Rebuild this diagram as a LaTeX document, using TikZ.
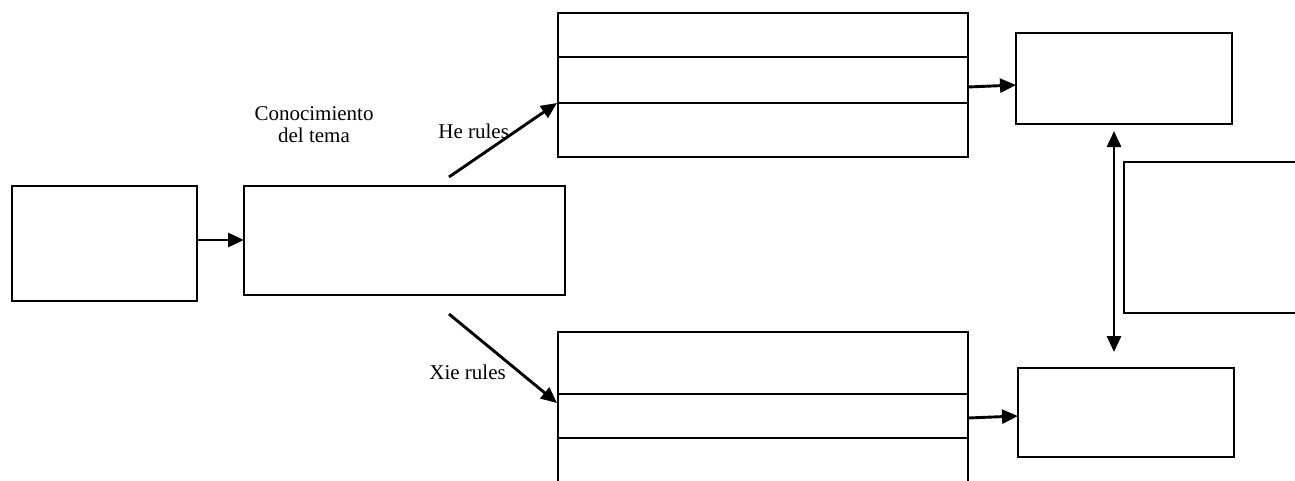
\documentclass[tikz,border=0pt]{standalone}
\usepackage{fontspec}
\setmainfont{Liberation Serif}
\usetikzlibrary{arrows.meta}
\begin{document}
\begin{tikzpicture}[x=0.5pt,y=-0.5pt,
  box/.style={draw,line width=1.45pt,rectangle,inner sep=0pt,outer sep=0pt},
  rowline/.style={line width=1.45pt},
  link/.style={line width=1.45pt,-{Triangle[length=8pt,width=7pt]}},
  twoway/.style={line width=1.45pt,{Triangle[length=8pt,width=7pt]}-{Triangle[length=8pt,width=7pt]}},
  lbl/.style={font=\fontsize{10.5}{11}\selectfont,inner sep=0pt}]
\clip (0,0) rectangle (1295,481);
\useasboundingbox (0,0) rectangle (1295,481);

% left boxes
\node[box,minimum width=92.5pt,minimum height=57.5pt] (A) at (104.5,243.5) {};
\node[box,minimum width=160.5pt,minimum height=54.5pt] (B) at (404.5,240.5) {};

% upper table
\node[box,minimum width=205pt,minimum height=72pt] (T1) at (763,85) {};
\draw[rowline] (T1.west |- 0,57) -- (T1.east |- 0,57);
\draw[rowline] (T1.west |- 0,103) -- (T1.east |- 0,103);

% lower table, running past the bottom edge
\node[box,minimum width=205pt,minimum height=84pt] (T2) at (763,416) {};
\draw[rowline] (T2.west |- 0,394) -- (T2.east |- 0,394);
\draw[rowline] (T2.west |- 0,438) -- (T2.east |- 0,438);

% right boxes
\node[box,minimum width=108pt,minimum height=45.5pt] (R1) at (1124,78.5) {};
\node[box,minimum width=108pt,minimum height=44.5pt] (R2) at (1126,412.5) {};
\node[box,minimum width=93pt,minimum height=75.5pt] (R3) at (1217,237.5) {};

% labels
\node[lbl,align=center] (know) at (314,125) {Conocimiento\\del tema};
\node[lbl,anchor=base west] (he) at (438,139) {He rules};
\node[lbl,anchor=base west] (xie) at (429,379) {Xie rules};

% connectors
\coordinate (heS) at (449,177);
\coordinate (heE) at (557,103);
\coordinate (xieS) at (449,314);
\coordinate (xieE) at (557,403);
\coordinate (vx) at (1114,0);

\draw[link] (A.east |- 0,240) -- (B.west |- 0,240);
\draw[link] (heS) -- (heE);
\draw[link] (xieS) -- (xieE);
\draw[link] (T1.east |- 0,87) -- (R1.west |- 0,85);
\draw[link] (T2.east |- 0,418) -- (R2.west |- 0,416);
\draw[twoway,shorten <=3.5pt,shorten >=8pt] (vx |- R1.south) -- (vx |- R2.north);
\end{tikzpicture}
\end{document}
